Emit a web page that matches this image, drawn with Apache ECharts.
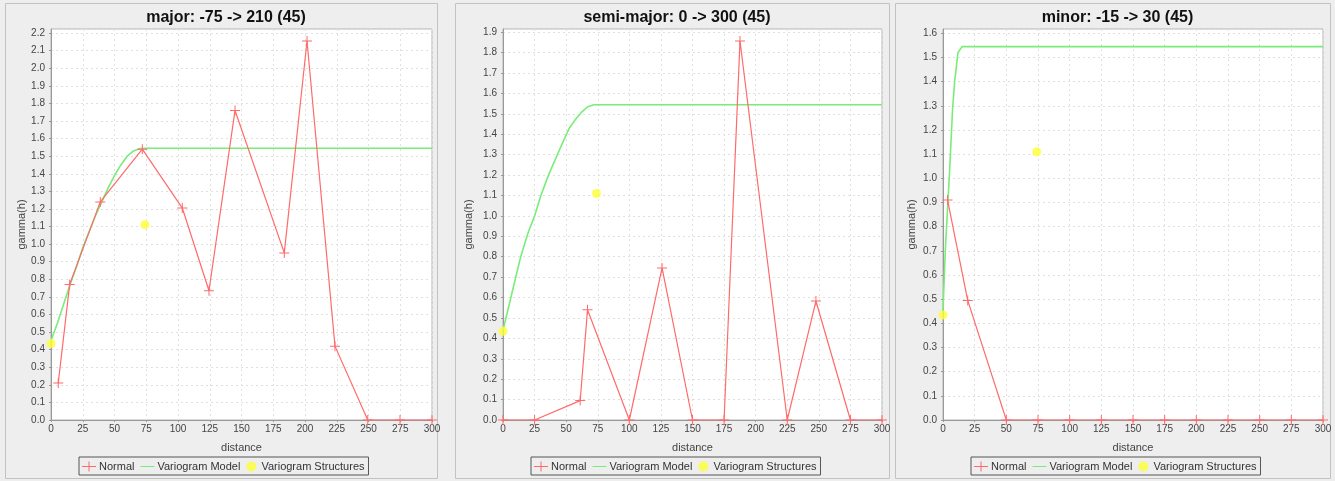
<!DOCTYPE html>
<html>
<head>
<meta charset="utf-8">
<script src="https://cdn.jsdelivr.net/npm/echarts@6/dist/echarts.min.js"></script>
<style>
  html, body { margin: 0; padding: 0; background: #eeeeee; }
  #chart { width: 1335px; height: 481px; }
</style>
</head>
<body>
<div id="chart"></div>
<script>
// Experimental variogram points (distance, gamma) for each direction
const majorNormal = [[5.7,0.21],[14.7,0.77],[38.8,1.24],[71.9,1.54],[103.4,1.205],[124.4,0.735],[144.9,1.76],[183.7,0.95],[201.6,2.155],[223.6,0.42],[249.4,0],[274.8,0],[300,0]];
const semiNormal = [[0,0],[25,0],[61.1,0.095],[66.9,0.54],[100,0],[125.9,0.745],[150,0],[175,0],[187.6,1.857],[225,0],[247.7,0.583],[275,0],[300,0]];
const minorNormal = [[3.6,0.91],[19.5,0.495],[50,0],[75,0],[100,0],[125,0],[150,0],[175,0],[200,0],[225,0],[250,0],[275,0],[300,0]];

// Fitted model curves
const majorModel = [[0,0.45],[5,0.55],[10,0.66],[15,0.77],[20,0.87],[25,0.98],[30,1.07],[35,1.16],[40,1.24],[45,1.32],[50,1.39],[55,1.45],[60,1.50],[65,1.53],[70,1.543],[73,1.545],[300,1.545]];
const semiModel = [[0,0.44],[7,0.62],[14,0.80],[20,0.92],[25,1.0],[30,1.10],[36,1.20],[43,1.30],[48,1.37],[52.5,1.43],[57,1.47],[62.5,1.51],[67,1.535],[72,1.545],[300,1.545]];
const minorModel = [[0,0.45],[1.8,0.70],[5.2,1.03],[7.6,1.29],[9.2,1.40],[11.8,1.52],[15,1.545],[300,1.545]];

// Nugget and structure contributions
const structures = [[0,0.435],[74,1.11]];

// Panel titles and axis ranges
const titles = ['major: -75 -> 210 (45)', 'semi-major: 0 -> 300 (45)', 'minor: -15 -> 30 (45)'];
const yMax = [2.223, 1.916, 1.618];
const xTicks = [0, 300, 25];
const legendNames = ['Normal', 'Variogram Model', 'Variogram Structures'];

const normals = [majorNormal, semiNormal, minorNormal];
const models = [majorModel, semiModel, minorModel];

const panels = [
  { x: 5,   w: 432, gl: 51,  gw: 381, lg: 79,  ng: 24 },
  { x: 455, w: 434, gl: 503, gw: 379, lg: 531, ng: 29 },
  { x: 895, w: 435, gl: 943, gw: 380, lg: 971, ng: 26 }
];

const RED = '#ff6a6a', GREEN = '#7aec7a', YELLOW = '#ffff33';
const PLUS = 'path://M4.5,0h1v4.5h4.5v1h-4.5v4.5h-1v-4.5h-4.5v-1h4.5z';
const FONT = 'Liberation Sans, Arial, sans-serif';
const GRIDLINE = { color: '#e0e0e0', type: [2, 3], width: 1 };

const grid = [], xAxis = [], yAxis = [], series = [], title = [], legend = [], graphic = [];

panels.forEach((p, i) => {
  graphic.push({
    type: 'rect', z: -10, silent: true,
    shape: { x: p.x + 0.5, y: 3.5, width: p.w, height: 475 },
    style: { fill: '#eeeeee', stroke: '#c2c2c2', lineWidth: 1 }
  });
  title.push({
    text: titles[i], left: p.x + p.w / 2, top: 5, textAlign: 'center',
    textStyle: { fontFamily: FONT, fontSize: 16, fontWeight: 'bold', color: '#111' }
  });
  grid.push({
    left: p.gl, top: 29, width: p.gw, height: 391,
    show: true, backgroundColor: '#ffffff', borderColor: '#b4b4b4', borderWidth: 1
  });
  xAxis.push({
    gridIndex: i, type: 'value', min: xTicks[0], max: xTicks[1], interval: xTicks[2],
    name: 'distance', nameLocation: 'middle', nameGap: 22,
    nameTextStyle: { fontFamily: FONT, fontSize: 11, color: '#444' },
    axisLine: { show: true, onZero: false, lineStyle: { color: '#999' } },
    axisTick: { show: true, length: 2, lineStyle: { color: '#999' } },
    axisLabel: { fontFamily: FONT, fontSize: 10, color: '#444', margin: 4 },
    splitLine: { show: true, lineStyle: GRIDLINE }
  });
  yAxis.push({
    gridIndex: i, type: 'value', min: 0, max: yMax[i], interval: 0.1,
    name: 'gamma(h)', nameLocation: 'middle', nameGap: p.ng,
    nameTextStyle: { fontFamily: FONT, fontSize: 11, color: '#444' },
    axisLine: { show: true, onZero: false, lineStyle: { color: '#999' } },
    axisTick: { show: true, length: 2, lineStyle: { color: '#999' } },
    axisLabel: {
      fontFamily: FONT, fontSize: 10, color: '#444', margin: 6, showMaxLabel: false,
      formatter: v => v.toFixed(1)
    },
    splitLine: { show: true, lineStyle: GRIDLINE }
  });
  series.push({
    name: 'Normal', type: 'line', xAxisIndex: i, yAxisIndex: i,
    data: normals[i], symbol: PLUS, symbolSize: 10, showAllSymbol: true,
    lineStyle: { color: RED, width: 1.2 },
    itemStyle: { color: RED, borderWidth: 0 }, z: 3
  });
  series.push({
    name: 'Variogram Model', type: 'line', xAxisIndex: i, yAxisIndex: i,
    data: models[i], symbol: 'none', lineStyle: { color: GREEN, width: 1.6 },
    itemStyle: { color: GREEN }, z: 2
  });
  series.push({
    name: 'Variogram Structures', type: 'scatter', xAxisIndex: i, yAxisIndex: i,
    data: structures, symbol: 'circle', symbolSize: 9,
    itemStyle: { color: YELLOW }, z: 4
  });
  legend.push({
    left: p.lg, top: 457, orient: 'horizontal',
    padding: [4, 4, 3, 3], itemGap: 6, itemWidth: 14, itemHeight: 10,
    borderColor: '#555', borderWidth: 1, backgroundColor: '#eeeeee',
    selectedMode: false,
    itemStyle: { borderWidth: 0 },
    textStyle: { fontFamily: FONT, fontSize: 11, color: '#333', padding: [0, 0, 0, -2] },
    data: [
      { name: legendNames[0], icon: 'path://M0,4.5h14v1h-14z M6.5,0h1v10h-1z' },
      { name: legendNames[1], icon: 'path://M0,4.5h14v1h-14z' },
      { name: legendNames[2], icon: 'circle' }
    ]
  });
});

const chart = echarts.init(document.getElementById('chart'), null, { renderer: 'canvas' });
chart.setOption({
  backgroundColor: '#eeeeee',
  animation: false,
  title, grid, xAxis, yAxis, series, legend, graphic
});
</script>
</body>
</html>
